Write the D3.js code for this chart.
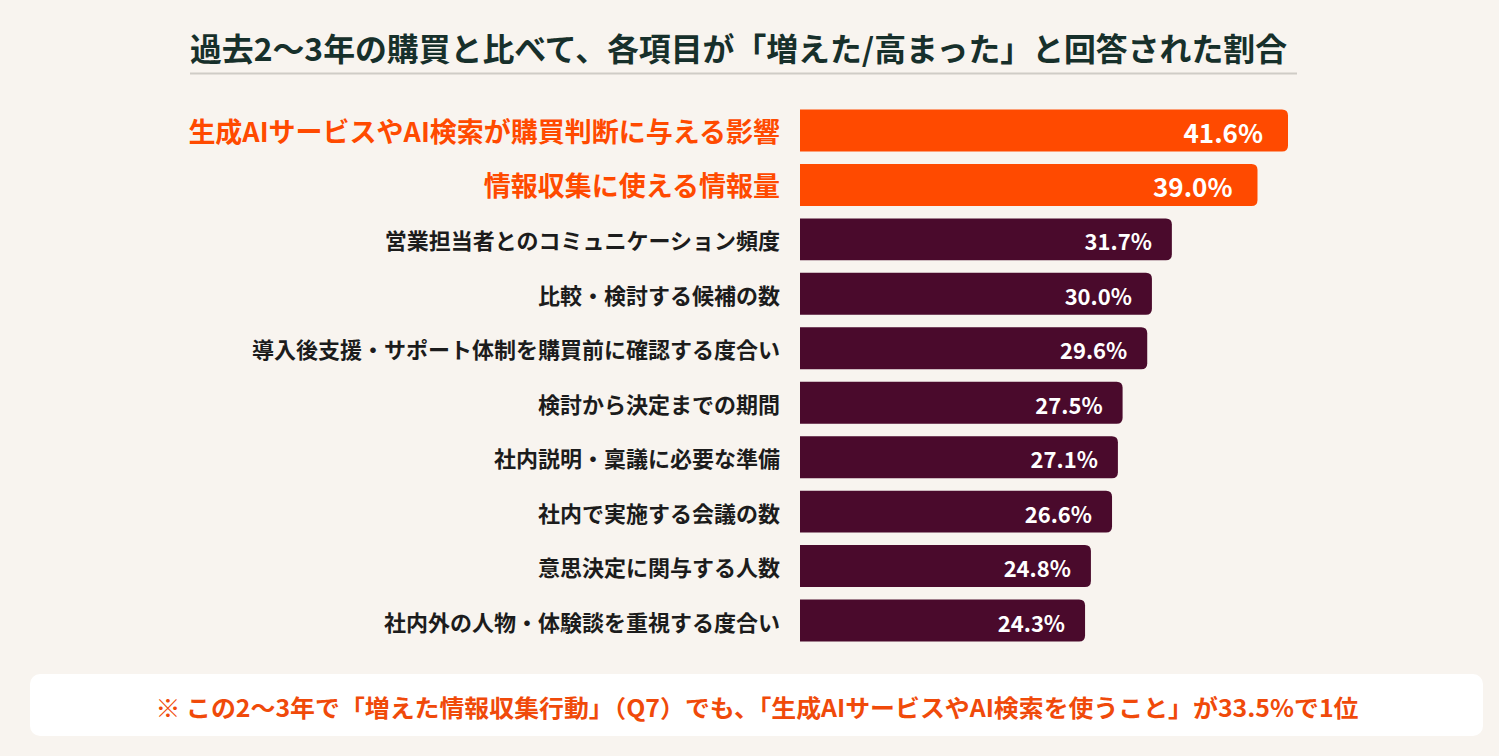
<!DOCTYPE html>
<html><head><meta charset="utf-8">
<script src="https://cdn.jsdelivr.net/npm/d3@7"></script>
<style>html,body{margin:0;padding:0;background:#f8f4ef;}svg{display:block;font-family:"Noto Sans CJK JP","Noto Sans",sans-serif;}</style>
</head><body>
<svg id="c" width="1499" height="756"></svg>
<script>
const categories = [
  "生成AIサービスやAI検索が購買判断に与える影響",
  "情報収集に使える情報量",
  "営業担当者とのコミュニケーション頻度",
  "比較・検討する候補の数",
  "導入後支援・サポート体制を購買前に確認する度合い",
  "検討から決定までの期間",
  "社内説明・稟議に必要な準備",
  "社内で実施する会議の数",
  "意思決定に関与する人数",
  "社内外の人物・体験談を重視する度合い"
];
const values = [41.6, 39.0, 31.7, 30.0, 29.6, 27.5, 27.1, 26.6, 24.8, 24.3];
const highlighted = [true, true, false, false, false, false, false, false, false, false];
const title = "過去2〜3年の購買と比べて、各項目が「増えた/高まった」と回答された割合";
const note = "※ この2〜3年で「増えた情報収集行動」（Q7）でも、「生成AIサービスやAI検索を使うこと」が33.5%で1位";

const svg = d3.select("#c");
const W = 1499, H = 756;
svg.append("rect").attr("width", W).attr("height", H).attr("fill", "#f8f4ef");

svg.append("text").attr("x", 190).attr("y", 47).attr("dominant-baseline", "central").text(title)
  .attr("font-size", 31.5).attr("font-weight", 700).attr("fill", "#17302b")
  .attr("textLength", 1097).attr("lengthAdjust", "spacingAndGlyphs");
svg.append("line").attr("x1", 190).attr("x2", 1297).attr("y1", 73.5).attr("y2", 73.5)
  .attr("stroke", "#cfccc6").attr("stroke-width", 2);

const x = d3.scaleLinear().domain([0, 41.6]).range([800, 1288]);
const y = d3.scaleBand().domain(categories).range([103, 648]).paddingInner(0.23).paddingOuter(0.12);

const orange = "#ff4a00", dark = "#4a0a2c";
const r = 6;
function barPath(x0, x1, y0, h) {
  return `M${x0},${y0}H${x1 - r}Q${x1},${y0} ${x1},${y0 + r}V${y0 + h - r}Q${x1},${y0 + h} ${x1 - r},${y0 + h}H${x0}Z`;
}
const g = svg.append("g");
categories.forEach((c, i) => {
  const y0 = y(c), h = y.bandwidth(), cy = y0 + h / 2;
  const hl = highlighted[i];
  g.append("path").attr("d", barPath(x(0), x(values[i]), y0, h)).attr("fill", hl ? orange : dark);
  g.append("text").attr("x", 780).attr("y", cy).attr("text-anchor", "end").attr("dominant-baseline", "central")
    .attr("font-size", hl ? 27 : 22).attr("font-weight", 700).attr("fill", hl ? orange : "#1c1c1c").text(c);
  g.append("text").attr("x", x(values[i]) - (hl ? 25 : 20)).attr("y", cy + 1).attr("text-anchor", "end").attr("dominant-baseline", "central")
    .attr("font-size", hl ? 26 : 22).attr("font-weight", 700).attr("fill", "#ffffff").text(values[i].toFixed(1) + "%");
});

svg.append("rect").attr("x", 30).attr("y", 674).attr("width", 1453).attr("height", 62).attr("rx", 10)
  .attr("fill", "#ffffff");
svg.append("text").attr("x", 757).attr("y", 706).attr("text-anchor", "middle").attr("dominant-baseline", "central")
  .attr("font-size", 24).attr("font-weight", 700).attr("fill", "#f04a0a").text(note)
  .attr("textLength", 1203).attr("lengthAdjust", "spacingAndGlyphs");
</script>
</body></html>
